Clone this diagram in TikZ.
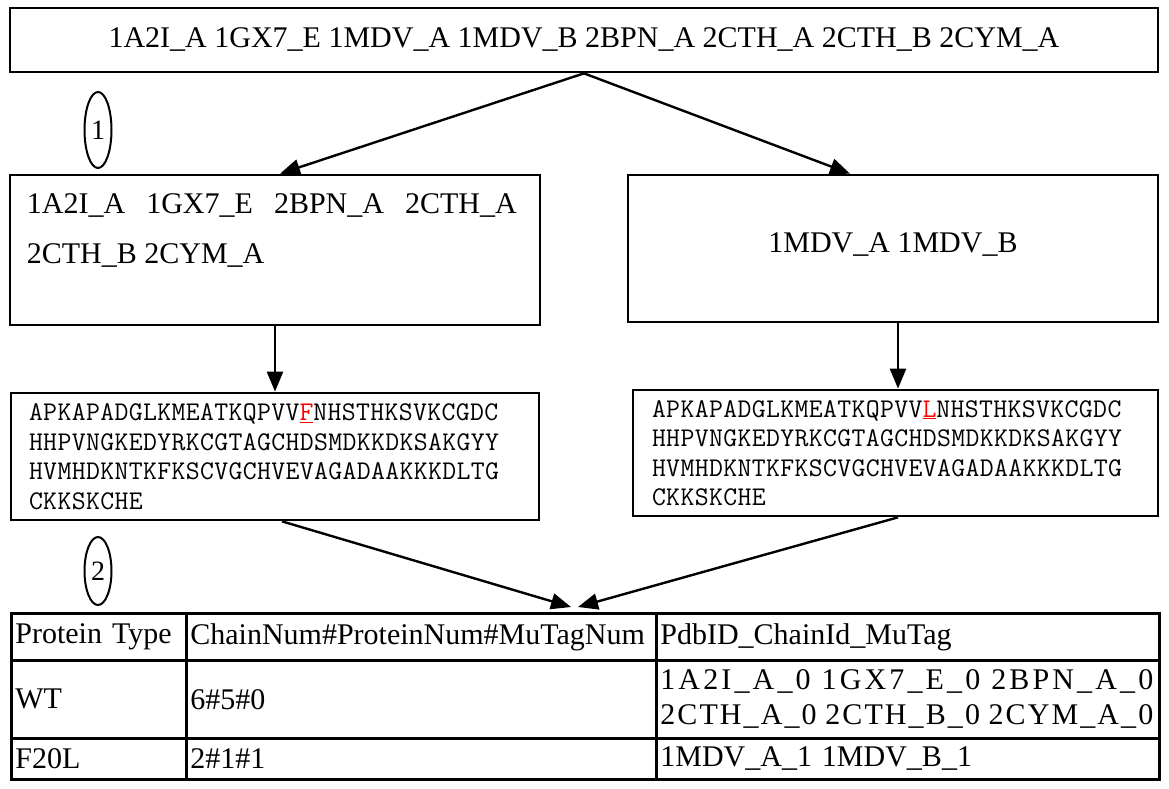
\documentclass[tikz,border=0pt]{standalone}
\usepackage{fontspec}
\setmainfont{Liberation Serif}
\newfontfamily\seqfont[LetterSpace=1.3]{Latin Modern Mono}
\newfontfamily\spacedfont[LetterSpace=7]{Liberation Serif}
\newfontfamily\widefont[LetterSpace=10.5]{Liberation Serif}
\usetikzlibrary{arrows.meta,calc,shapes.geometric}

\tikzset{
  box/.style={draw, line width=2.7pt, rectangle, inner sep=0pt},
  conn/.style={line width=2.4pt, -{Triangle[length=20pt,width=16pt]}},
  tag/.style={draw, ellipse, line width=2pt, inner sep=0pt,
    minimum width=27pt, font=\fontsize{28}{30}\selectfont},
  big/.style={font=\fontsize{30}{50}\selectfont},
  seq/.style={box, align=left, inner xsep=18pt,
    font=\seqfont\fontsize{27}{29.5}\selectfont},
  cell/.style={draw, line width=2.7pt, rectangle, anchor=north west,
    inner xsep=4pt, inner ysep=0pt, align=left,
    font=\fontsize{30}{35}\selectfont},
}
\newcommand{\mut}[1]{{\color{red}\underline{#1}}}

\begin{document}
\begin{tikzpicture}[x=1pt,y=-1pt]
\useasboundingbox (0,0) rectangle (1169,789);

% full set of chains
\node[box, big, minimum width=1148pt, minimum height=64pt] (all) at (584,40)
  {1A2I\_A 1GX7\_E 1MDV\_A 1MDV\_B 2BPN\_A 2CTH\_A 2CTH\_B 2CYM\_A};

% step markers
\node[tag, minimum height=76pt] (m1) at (98,130) {1};
\node[tag, minimum height=68pt] (m2) at (98,571) {2};

% chains grouped by sequence
\node[box, minimum width=530pt, minimum height=150pt] (grpA) at (275,250) {};
\node[big, anchor=north west, inner sep=0pt, align=left] (grpAtxt)
  at ($(grpA.north west)+(18,20)$)
  {\makebox[490pt][s]{1A2I\_A 1GX7\_E 2BPN\_A 2CTH\_A}\\2CTH\_B 2CYM\_A};
\node[box, big, minimum width=530pt, minimum height=147pt, text depth=12pt] (grpB) at (893,248.5)
  {1MDV\_A 1MDV\_B};

% sequences
\node[seq, text width=492pt, minimum height=127pt] (seqA) at (275,456.5)
  {APKAPADGLKMEATKQPVV\mut{F}NHSTHKSVKCGDC\\
   HHPVNGKEDYRKCGTAGCHDSMDKKDKSAKGYY\\
   HVMHDKNTKFKSCVGCHVEVAGADAAKKKDLTG\\
   CKKSKCHE};
\node[seq, inner xsep=19pt, text width=487pt, minimum height=126pt] (seqB) at (895.5,453)
  {APKAPADGLKMEATKQPVV\mut{L}NHSTHKSVKCGDC\\
   HHPVNGKEDYRKCGTAGCHDSMDKKDKSAKGYY\\
   HVMHDKNTKFKSCVGCHVEVAGADAAKKKDLTG\\
   CKKSKCHE};

% summary table
\node[cell, text width=167pt, minimum height=47pt] (h1) at (10,612) {Protein Type};
\node[cell, text width=462pt, minimum height=47pt] (h2) at (185,612) {ChainNum\#ProteinNum\#MuTagNum};
\node[cell, text width=495pt, minimum height=47pt] (h3) at (655,612) {PdbID\_ChainId\_MuTag};
\node[cell, text width=167pt, minimum height=78pt] (r1) at (10,659) {WT};
\node[cell, text width=462pt, minimum height=78pt] (r2) at (185,659) {6\#5\#0};
\node[cell, text width=495pt, minimum height=78pt] (r3) at (655,659)
  {\widefont\makebox[493pt][s]{1A2I\_A\_0\hfill 1GX7\_E\_0\hfill 2BPN\_A\_0}\\
   \spacedfont\makebox[493pt][s]{2CTH\_A\_0\hfill 2CTH\_B\_0\hfill 2CYM\_A\_0}};
\node[cell, text width=167pt, minimum height=41pt] (s1) at (10,737) {F20L};
\node[cell, text width=462pt, minimum height=41pt] (s2) at (185,737) {2\#1\#1};
\node[cell, text width=495pt, minimum height=41pt] (s3) at (655,737) {1MDV\_A\_1 1MDV\_B\_1};

\coordinate (inL) at (571,607);
\coordinate (inR) at (578,607);

% connectors
\draw[conn] (all.south) -- ($(grpA.north)+(5,0)$);
\draw[conn] (all.south) -- ($(grpB.north)+(-43,0)$);
\draw[conn] (grpA.south) -- (seqA.north);
\draw[conn] ($(grpB.south)+(5,0)$) -- ($(seqB.north)+(2.5,0)$);
\draw[conn] ($(seqA.south)+(7,0)$) -- (inL);
\draw[conn] ($(seqB.south)+(2.5,0)$) -- (inR);
\end{tikzpicture}
\end{document}
